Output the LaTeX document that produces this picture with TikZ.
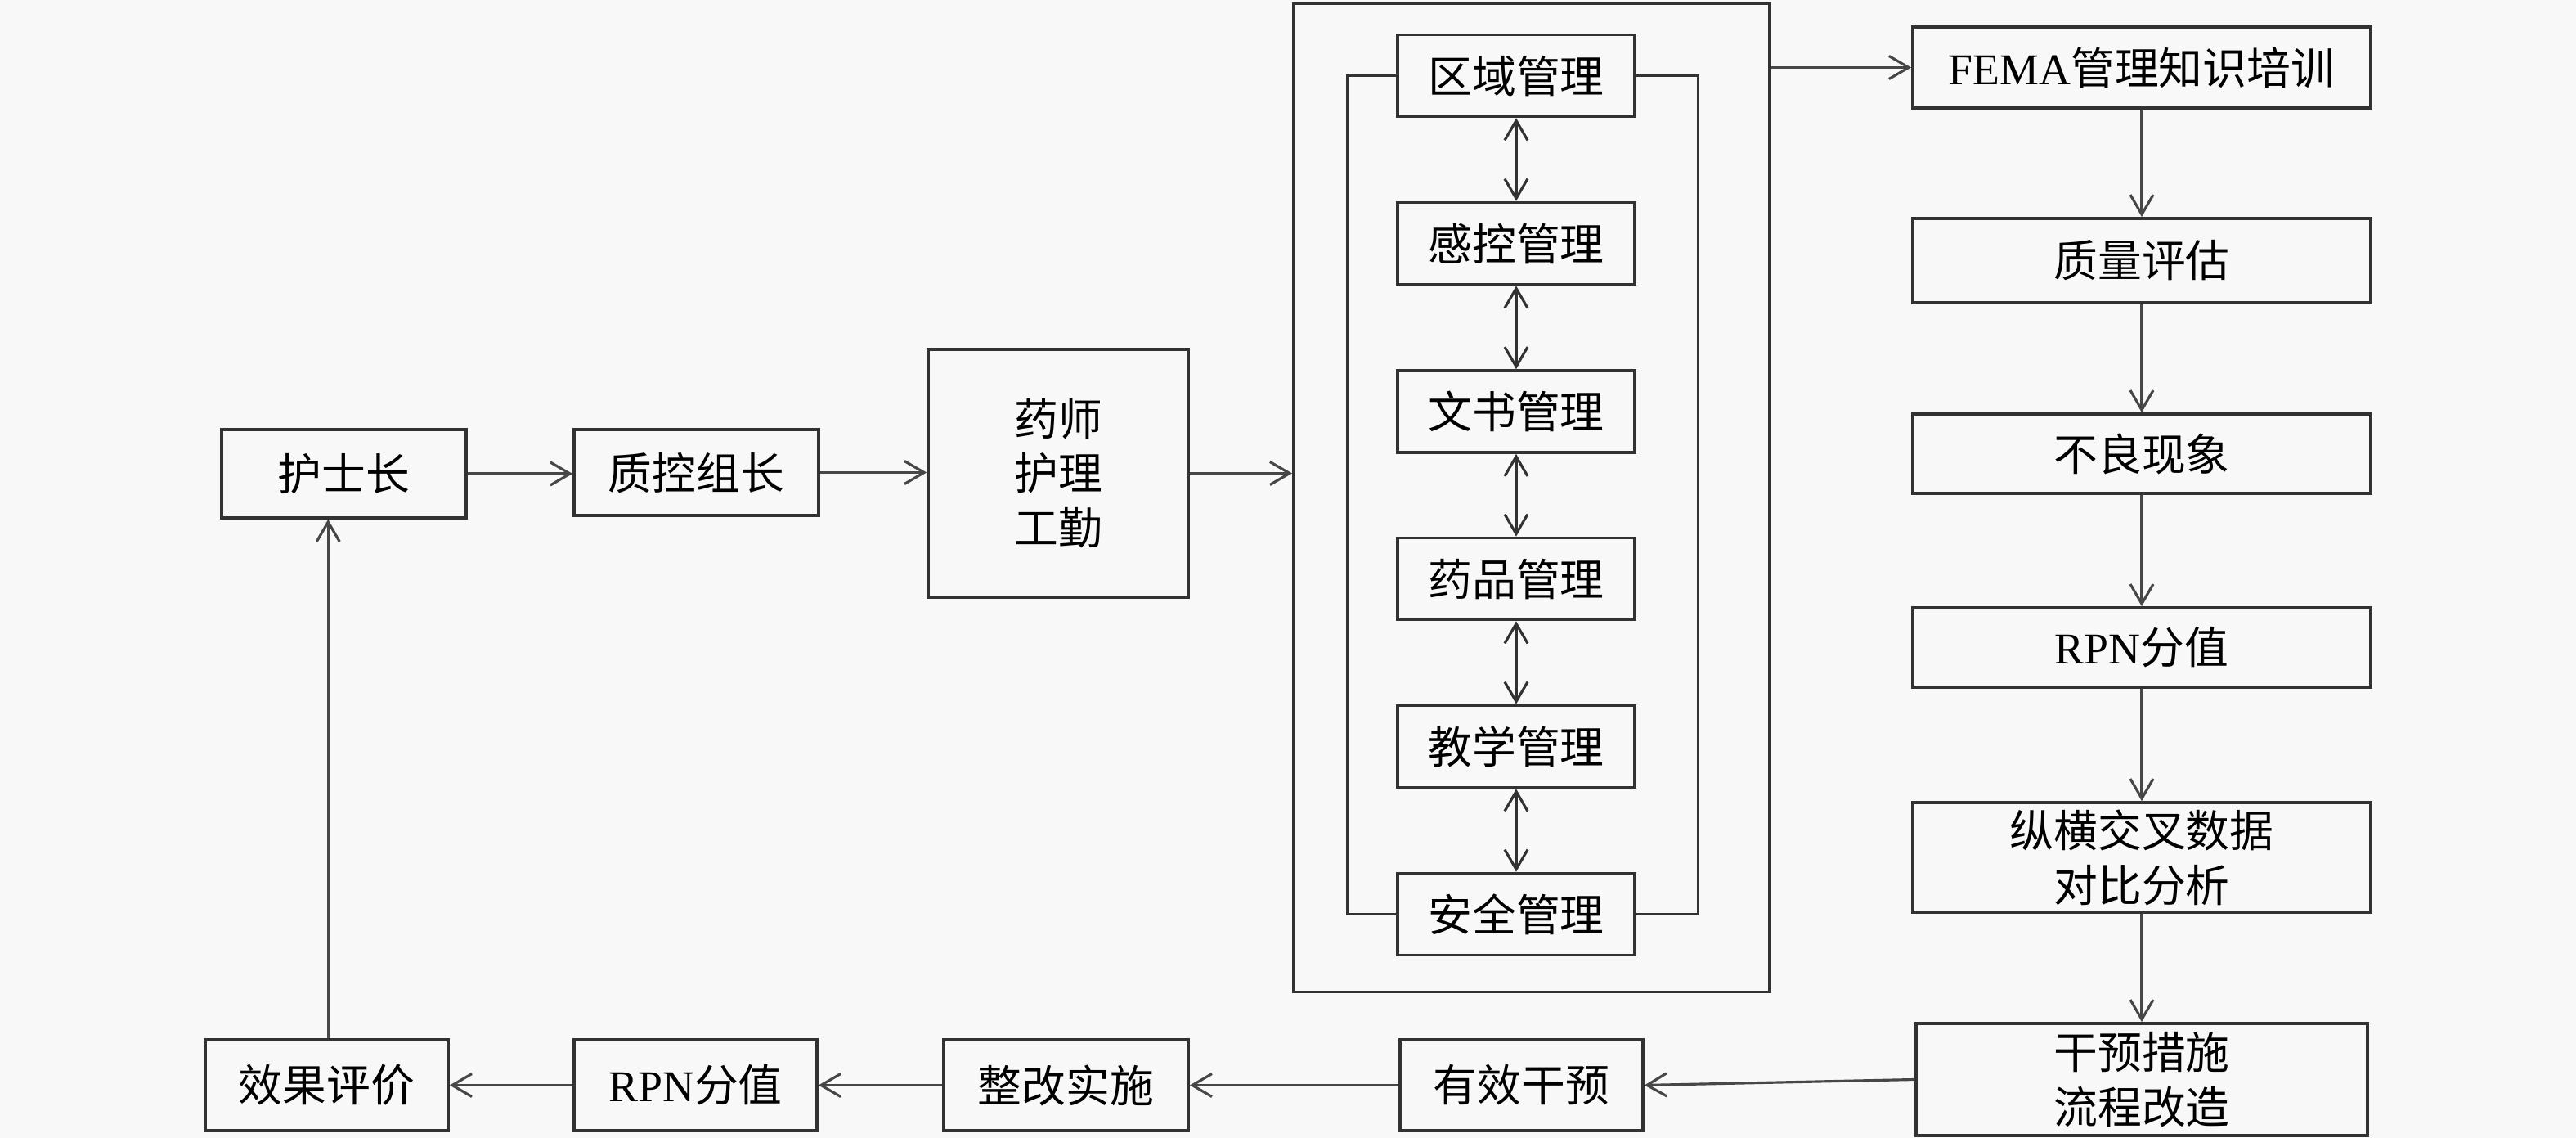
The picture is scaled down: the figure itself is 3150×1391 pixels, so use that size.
\documentclass[tikz,border=0pt]{standalone}
\usepackage{fontspec}
\setmainfont{Liberation Serif}
\newfontfamily\cjk{Noto Sans CJK SC}
\newcommand\latn[1]{{\rmfamily #1}}
\usetikzlibrary{arrows.meta}
\definecolor{bgc}{RGB}{248,248,248}
\definecolor{linec}{RGB}{50,50,50}
\tikzset{
  box/.style={draw=linec, line width=1pt, fill=bgc, inner sep=0pt, align=center,
    font=\cjk\fontsize{15.3}{19}\selectfont, text=black},
  arr/.style={draw=linec!90!white, line width=0.9pt, -{Straight Barb[length=2.4mm,width=2.8mm]}},
  darr/.style={draw=linec, line width=0.9pt, {Straight Barb[length=2.4mm,width=2.8mm]}-{Straight Barb[length=2.4mm,width=2.8mm]}},
  plain/.style={draw=linec, line width=0.9pt}
}
\begin{document}
\begin{tikzpicture}[x=0.01cm,y=-0.01cm]
\fill[bgc] (0,0) rectangle (3150,1391);
\useasboundingbox (0,0) rectangle (3150,1391);

% left part
\node[box, minimum width=2.99cm, minimum height=1.08cm] (hs) at (420.5,579) {护士长};
\node[box, minimum width=2.99cm, minimum height=1.05cm] (zk) at (851.5,577.5) {质控组长};
\node[box, minimum width=3.18cm, minimum height=3.03cm] (ys) at (1294,578.5) {药师\\护理\\工勤};

% big frame
\node[draw=linec, line width=1pt, minimum width=5.82cm, minimum height=12.07cm, inner sep=0pt] (big) at (1873,608.5) {};

% inner boxes
\node[box, minimum width=2.9cm, minimum height=1cm] (a1) at (1854,92.5) {区域管理};
\node[box, minimum width=2.9cm, minimum height=1cm] (a2) at (1854,297.5) {感控管理};
\node[box, minimum width=2.9cm, minimum height=1cm] (a3) at (1854,503) {文书管理};
\node[box, minimum width=2.9cm, minimum height=1cm] (a4) at (1854,707.5) {药品管理};
\node[box, minimum width=2.9cm, minimum height=1cm] (a5) at (1854,912.5) {教学管理};
\node[box, minimum width=2.9cm, minimum height=1cm] (a6) at (1854,1117.5) {安全管理};

% right column
\node[box, minimum width=5.6cm, minimum height=0.99cm] (fe) at (2619,82.5) {\latn{FEMA}管理知识培训};
\node[box, minimum width=5.6cm, minimum height=1.03cm] (zl) at (2619,318.5) {质量评估};
\node[box, minimum width=5.6cm, minimum height=0.97cm] (bl) at (2619,554.5) {不良现象};
\node[box, minimum width=5.6cm, minimum height=0.97cm] (r1) at (2619,791.5) {\latn{RPN}分值};
\node[box, minimum width=5.6cm, minimum height=1.34cm] (zh) at (2619,1048) {纵横交叉数据\\对比分析};
\node[box, minimum width=5.52cm, minimum height=1.37cm] (gy) at (2619,1319.5) {干预措施\\流程改造};

% bottom row
\node[box, minimum width=2.97cm, minimum height=1.11cm] (yx) at (1860.5,1326.5) {有效干预};
\node[box, minimum width=2.99cm, minimum height=1.11cm] (zg) at (1303.5,1326.5) {整改实施};
\node[box, minimum width=2.97cm, minimum height=1.11cm] (r2) at (850.5,1326.5) {\latn{RPN}分值};
\node[box, minimum width=2.97cm, minimum height=1.11cm] (xg) at (399.5,1326.5) {效果评价};

% connectors
\draw[arr] (hs.east) -- (hs.east -| zk.west);
\draw[arr] (zk.east) -- (zk.east -| ys.west);
\draw[arr] (ys.east) -- (ys.east -| big.west);
\draw[arr] (big.east |- fe.west) -- (fe.west);

\draw[darr] (a1.south) -- (a2.north);
\draw[darr] (a2.south) -- (a3.north);
\draw[darr] (a3.south) -- (a4.north);
\draw[darr] (a4.south) -- (a5.north);
\draw[darr] (a5.south) -- (a6.north);
\draw[plain] (a1.west) -- ++(-60,0) |- (a6.west);
\draw[plain] (a1.east) -- ++(76,0) |- (a6.east);

\draw[arr] (fe.south) -- (zl.north);
\draw[arr] (zl.south) -- (bl.north);
\draw[arr] (bl.south) -- (r1.north);
\draw[arr] (r1.south) -- (zh.north);
\draw[arr] (zh.south) -- (gy.north);

\draw[arr] (gy.west) -- (yx.east);
\draw[arr] (yx.west) -- (zg.east);
\draw[arr] (zg.west) -- (r2.east);
\draw[arr] (r2.west) -- (xg.east);
\draw[arr] ([xshift=0.5]xg.north) -- ([xshift=0.5]xg.north |- hs.south);
\end{tikzpicture}
\end{document}
